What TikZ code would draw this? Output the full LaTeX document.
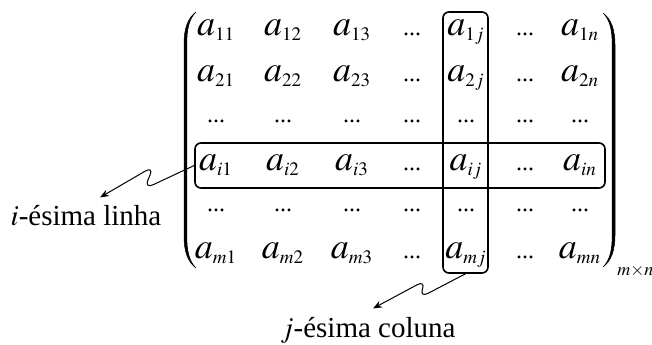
\documentclass[tikz,border=0pt]{standalone}
\usepackage{mathptmx}
\usepackage{fontspec}
\setmainfont{Liberation Serif}
\usetikzlibrary{arrows.meta}
\DeclareMathSizes{18}{18}{9.5}{7}
\tikzset{
  entry/.style={anchor=base, inner sep=0pt, font=\fontsize{18}{20}\selectfont},
  dotsentry/.style={anchor=base, inner sep=0pt, font=\fontsize{12}{14}\selectfont},
  picker/.style={draw=black, line width=0.8pt, rounded corners=3pt, inner sep=0pt},
  wiggle/.style={line width=0.5pt, rounded corners=5pt,
    -{Stealth[length=4.5pt,width=3.5pt]}},
  caption/.style={anchor=base, inner sep=1pt, font=\fontsize{14.5}{17}\selectfont},
  paren/.style={fill=black, draw=black, line width=0.25pt}
}

\begin{document}
\begin{tikzpicture}[x=0.5pt, y=0.5pt, line cap=round, line join=round]
  \useasboundingbox (0,0) rectangle (652,344);

  % entries of the matrix
  \foreach \r/\y/\s in {1/309/1,2/263/2,4/174/i,6/86/m} {
    \foreach \c/\x/\t in {1/216/1,2/283/2,3/352/3,5/466/j,7/580/n}
      \node[entry] (a-\r-\c) at (\x,\y) {$a_{\s\t}$};
    \foreach \c/\x in {4/412,6/525}
      \node[dotsentry] (a-\r-\c) at (\x,\y) {...};
  }
  \foreach \r/\y in {3/222,5/133}
    \foreach \c/\x in {1/216,2/283,3/352,4/412,5/466,6/525,7/580}
      \node[dotsentry] (a-\r-\c) at (\x,\y) {...};

  % parentheses
  \filldraw[paren] (196,332) .. controls (188,326) and (184,316) .. (184,300)
    -- (184,108) .. controls (184,92) and (188,82) .. (196,76)
    .. controls (189,83) and (186.8,93) .. (186.8,108) -- (186.8,300)
    .. controls (186.8,315) and (189,325) .. (196,332) -- cycle;
  \filldraw[paren] (603,331) .. controls (611,325) and (615,315) .. (615,299)
    -- (615,109) .. controls (615,93) and (611,83) .. (603,77)
    .. controls (610,84) and (612.2,94) .. (612.2,109) -- (612.2,299)
    .. controls (612.2,314) and (610,324) .. (603,331) -- cycle;
  \node[anchor=base west, inner sep=0pt, font=\fontsize{9}{10}\selectfont]
    (size) at (617,69) {$m{\times}n$};

  % row i and column j
  \node[picker, minimum width=205pt, minimum height=22.5pt] (rowbox) at (400,178.5) {};
  \node[picker, minimum width=22.5pt, minimum height=130.5pt] (colbox) at (465.5,201.5) {};

  \node[caption] (linha) at (86,119) {$i$-ésima linha};
  \node[caption] (coluna) at (368,7) {$j$-ésima coluna};

  \draw[wiggle] (rowbox.west) -- (144,155) -- (154,178)
    -- ([shift={(7pt,2.5pt)}]linha.north);
  \draw[wiggle] (colbox.south) -- (419,46) -- (426,64)
    -- ([shift={(2.5pt,3pt)}]coluna.north);
\end{tikzpicture}
\end{document}
